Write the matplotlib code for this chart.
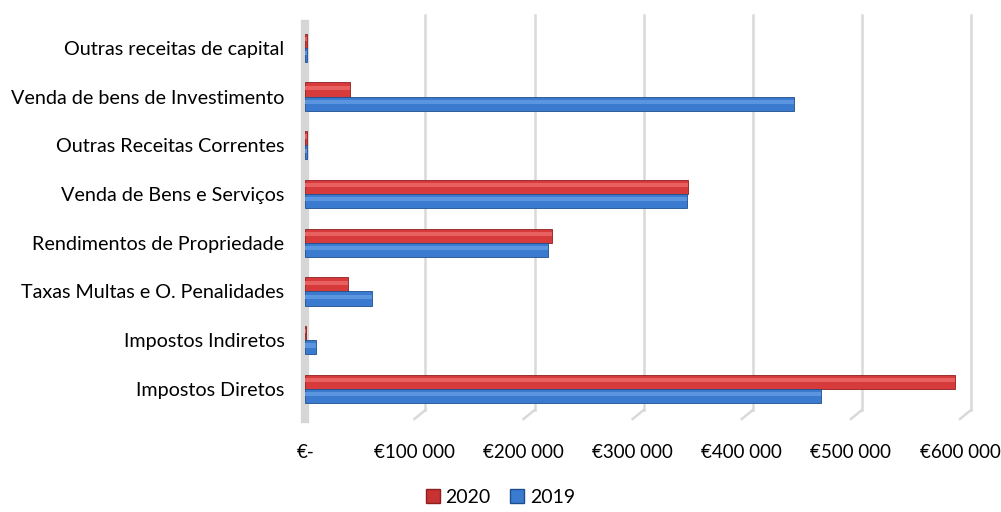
import numpy as np
import matplotlib.pyplot as plt
from matplotlib.ticker import FuncFormatter
from matplotlib.transforms import ScaledTranslation, IdentityTransform
from matplotlib.lines import Line2D

categories = ['Impostos Diretos', 'Impostos Indiretos', 'Taxas Multas e O. Penalidades',
              'Rendimentos de Propriedade', 'Venda de Bens e Serviços',
              'Outras Receitas Correntes', 'Venda de bens de Investimento',
              'Outras receitas de capital']
values_2020 = [595000, 1000, 39000, 226000, 351000, 1500, 41000, 1500]
values_2019 = [473000, 10000, 61000, 222000, 350000, 2000, 448000, 1500]
xticks = [0, 100000, 200000, 300000, 400000, 500000, 600000]

plt.rcParams['font.family'] = ['Lato', 'DejaVu Sans']

fig = plt.figure(figsize=(10.01, 5.12), dpi=100)
ax = fig.add_axes([0.305, 0.1816, 0.654, 0.7725])

y = np.arange(len(categories))
h = 0.29

# bars (2020 sits above 2019 in every group)
ax.barh(y + h / 2, values_2020, height=h, color='#D63A3A', edgecolor='#8E1F1F', linewidth=0.6, zorder=3)
ax.barh(y - h / 2, values_2019, height=h, color='#3A7BD0', edgecolor='#1F4E8E', linewidth=0.6, zorder=3)
# lighter strip on top -> rough cylinder look
ax.barh(y + h / 2 + h * 0.12, values_2020, height=h * 0.3, color='#E86060', linewidth=0, zorder=4)
ax.barh(y - h / 2 + h * 0.12, values_2019, height=h * 0.3, color='#5B95E0', linewidth=0, zorder=4)

ax.set_yticks(y)
ax.set_yticklabels(categories, fontsize=14.2)
ax.set_ylim(-0.62, len(categories) - 0.5)

ax.set_xlim(0, 600000)
ax.set_xticks(xticks)
ax.xaxis.set_major_formatter(FuncFormatter(lambda v, p: '€-' if v == 0 else '€' + f'{int(v):,}'.replace(',', ' ')))
ax.tick_params(axis='x', labelsize=13.5, length=0, pad=18)
ax.tick_params(axis='y', length=0, pad=15)

for s in ['top', 'right', 'bottom']:
    ax.spines[s].set_visible(False)
ax.spines['left'].set_color('#D6D6D6')
ax.spines['left'].set_linewidth(6)

# back-wall gridlines, shifted like Excel's 3D chart, plus the little floor diagonals
dx, dy = 11, 9
back = ax.get_xaxis_transform() + ScaledTranslation(dx / 100, dy / 100, fig.dpi_scale_trans)
for t in xticks[1:]:
    ax.plot([t, t], [0, 1], transform=back, color='#D9D9D9', lw=1.8, zorder=0, clip_on=False)
    x0, y0 = ax.get_xaxis_transform().transform((t, 0))
    ax.add_line(Line2D([x0, x0 + dx], [y0, y0 + dy], transform=IdentityTransform(),
                       color='#D9D9D9', lw=1.8, zorder=0, clip_on=False))

h1 = plt.Rectangle((0, 0), 1, 1, color='#C83232', ec='#8E1F1F')
h2 = plt.Rectangle((0, 0), 1, 1, color='#3A7BD0', ec='#1F4E8E')
fig.legend([h1, h2], ['2020', '2019'], loc='lower center', bbox_to_anchor=(0.5, -0.022), ncol=2,
           frameon=False, fontsize=14, handlelength=0.7, handleheight=0.7, handletextpad=0.3, columnspacing=1.0)

fig.savefig('out.png', dpi=100)
